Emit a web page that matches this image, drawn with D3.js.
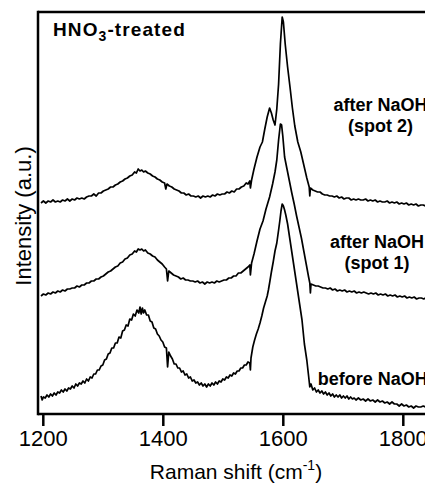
<!DOCTYPE html>
<html>
<head>
<meta charset="utf-8">
<script src="https://cdn.jsdelivr.net/npm/d3@7"></script>
<style>
  html, body { margin: 0; padding: 0; background: #fff; }
  svg { display: block; font-family: "Liberation Sans", Arial, sans-serif; }
</style>
</head>
<body>
<svg id="chart" width="425" height="485"></svg>
<script>
// Raman spectra, [shift in cm-1, intensity in a.u.]
const spectrumSpot2 = [
  [1197,211],[1201,213],[1205,211],[1209,213],[1213,212],[1217,214],[1221,212],[1225,213],[1229,212],[1233,214],
  [1237,213],[1241,215],[1245,213],[1249,215],[1253,214],[1257,216],[1261,215],[1265,216],[1269,215],[1273,217],
  [1277,218],[1281,218],[1285,220],[1289,218],[1293,221],[1297,221],[1301,223],[1305,224],[1309,225],[1313,227],
  [1317,227],[1321,229],[1325,230],[1329,232],[1333,233],[1337,235],[1341,236],[1345,238],[1349,239],[1353,242],
  [1356,241],[1359,245],[1362,243],[1365,244],[1368,242],[1371,243],[1375,241],[1379,240],[1383,238],[1387,237],
  [1391,235],[1395,234],[1399,232],[1403,231],[1405,225],[1407,230],[1411,228],[1415,227],[1419,225],[1423,224],
  [1427,223],[1431,221],[1435,221],[1439,219],[1443,220],[1447,218],[1451,218],[1455,217],[1459,218],[1463,216],
  [1467,218],[1471,217],[1475,218],[1479,217],[1483,219],[1487,218],[1491,220],[1495,219],[1499,220],[1503,220],
  [1507,222],[1511,221],[1515,223],[1519,222],[1523,225],[1527,225],[1531,227],[1535,228],[1539,231],[1542,230],
  [1545,233],[1546,226],[1548,234],[1552,245],[1557,257],[1562,267],[1566,272],[1570,285],[1574,297],[1578,306],
  [1581,301],[1584,294],[1587,289],[1590,305],[1593,330],[1596,370],[1599,397],[1601,392],[1604,370],[1608,347],
  [1612,327],[1616,306],[1620,288],[1625,272],[1630,262],[1635,249],[1640,236],[1644,227],[1645,218],[1646,226],
  [1650,224],[1654,223],[1658,222],[1662,222],[1666,220],[1670,219],[1674,219],[1678,218],[1682,218],[1686,217],
  [1690,218],[1694,216],[1698,217],[1702,215],[1706,216],[1710,216],[1714,214],[1718,215],[1722,214],[1726,215],
  [1730,214],[1734,214],[1738,215],[1742,213],[1746,214],[1750,213],[1754,214],[1758,212],[1762,213],[1766,212],
  [1770,212],[1774,213],[1778,211],[1782,212],[1786,211],[1790,212],[1794,210],[1798,211],[1802,210],[1806,211],
  [1810,209],[1814,210],[1818,209],[1822,210],[1826,208],[1830,209],[1834,209],[1838,208]
];

const spectrumSpot1 = [
  [1197,118],[1201,120],[1205,119],[1209,121],[1213,120],[1217,122],[1221,121],[1225,123],[1229,122],[1233,124],
  [1237,123],[1241,125],[1245,125],[1249,126],[1253,126],[1257,128],[1261,127],[1265,129],[1269,129],[1273,131],
  [1277,131],[1281,133],[1285,133],[1289,135],[1293,135],[1297,137],[1301,138],[1305,140],[1309,142],[1313,143],
  [1317,145],[1321,147],[1325,148],[1329,151],[1333,152],[1337,155],[1341,156],[1345,159],[1349,160],[1353,163],
  [1356,162],[1359,165],[1362,164],[1365,165],[1368,163],[1371,164],[1375,161],[1379,160],[1383,158],[1387,157],
  [1391,154],[1395,152],[1399,150],[1403,147],[1406,145],[1408,133],[1410,143],[1414,141],[1418,139],[1422,138],
  [1426,137],[1430,135],[1434,136],[1438,134],[1442,134],[1446,133],[1450,133],[1454,132],[1458,133],[1462,131],
  [1466,132],[1470,130],[1474,132],[1478,131],[1482,132],[1486,131],[1490,133],[1494,132],[1498,133],[1502,134],
  [1506,134],[1510,136],[1514,136],[1518,138],[1522,138],[1526,141],[1530,141],[1534,143],[1538,145],[1542,147],
  [1545,149],[1546,139],[1548,151],[1552,160],[1557,173],[1562,185],[1567,193],[1572,205],[1578,217],[1583,230],
  [1587,242],[1590,254],[1593,274],[1596,290],[1598,289],[1600,278],[1603,257],[1607,245],[1611,233],[1615,221],
  [1619,210],[1623,198],[1627,187],[1631,176],[1635,163],[1639,150],[1643,137],[1645,131],[1646,121],[1647,130],
  [1651,129],[1655,128],[1659,128],[1663,127],[1667,126],[1671,126],[1675,125],[1679,126],[1683,124],[1687,125],
  [1691,123],[1695,124],[1699,123],[1703,124],[1707,122],[1711,123],[1715,122],[1719,123],[1723,121],[1727,122],
  [1731,121],[1735,122],[1739,121],[1743,120],[1747,121],[1751,120],[1755,121],[1759,119],[1763,120],[1767,119],
  [1771,120],[1775,118],[1779,119],[1783,118],[1787,119],[1791,117],[1795,118],[1799,117],[1803,118],[1807,116],
  [1811,117],[1815,116],[1819,117],[1823,115],[1827,116],[1831,116],[1835,115],[1838,116]
];

const spectrumBefore = [
  [1197,18],[1199,14],[1201,17],[1204,16],[1207,19],[1210,17],[1213,20],[1216,18],[1219,21],[1222,19],
  [1225,22],[1228,21],[1231,24],[1234,22],[1237,25],[1240,23],[1243,26],[1246,25],[1249,28],[1252,26],
  [1255,30],[1258,28],[1261,31],[1264,30],[1267,33],[1270,31],[1273,35],[1276,33],[1279,37],[1282,36],
  [1285,40],[1288,40],[1291,44],[1294,44],[1297,48],[1300,49],[1303,54],[1306,55],[1309,60],[1312,61],
  [1315,66],[1318,66],[1321,71],[1324,71],[1327,77],[1330,76],[1333,83],[1336,84],[1339,89],[1342,88],
  [1345,95],[1348,94],[1351,100],[1354,98],[1357,104],[1360,101],[1362,107],[1364,100],[1366,106],[1368,101],
  [1370,104],[1373,99],[1376,99],[1379,93],[1382,92],[1385,86],[1388,85],[1391,80],[1394,78],[1397,74],
  [1400,72],[1403,67],[1406,66],[1408,47],[1410,62],[1413,58],[1416,55],[1419,50],[1422,50],[1425,46],
  [1428,46],[1431,42],[1434,43],[1437,39],[1440,40],[1443,36],[1446,37],[1449,33],[1452,34],[1455,31],
  [1458,32],[1461,29],[1464,31],[1467,28],[1470,30],[1473,27],[1476,30],[1479,28],[1482,31],[1485,29],
  [1488,32],[1491,30],[1494,33],[1497,32],[1500,35],[1503,34],[1506,37],[1509,36],[1512,39],[1515,38],
  [1518,41],[1521,40],[1524,43],[1527,43],[1530,46],[1533,46],[1536,49],[1539,49],[1542,52],[1545,51],
  [1546,44],[1547,56],[1550,67],[1553,74],[1556,80],[1559,85],[1562,91],[1565,98],[1568,106],[1571,112],
  [1574,118],[1576,124],[1578,131],[1581,142],[1584,152],[1587,163],[1590,171],[1593,184],[1595,193],[1597,203],
  [1599,210],[1601,208],[1603,204],[1605,199],[1608,190],[1612,174],[1617,154],[1622,134],[1627,114],[1632,94],
  [1636,70],[1640,54],[1643,38],[1645,27],[1647,30],[1650,24],[1653,26],[1656,22],[1659,24],[1662,21],
  [1665,23],[1668,20],[1671,22],[1674,19],[1677,21],[1680,18],[1683,20],[1686,17],[1689,19],[1692,17],
  [1695,19],[1698,16],[1701,18],[1704,16],[1707,18],[1710,15],[1713,17],[1716,15],[1719,16],[1722,14],
  [1726,16],[1730,14],[1734,15],[1738,13],[1742,15],[1746,13],[1750,14],[1754,12],[1758,14],[1762,12],
  [1766,13],[1770,11],[1774,12],[1778,10],[1782,12],[1786,10],[1790,10],[1794,8],[1798,10],[1802,8],
  [1806,9],[1810,7],[1814,8],[1818,6],[1822,8],[1826,7],[1830,7],[1834,8],[1838,7]
];

const xTicks = [1200, 1400, 1600, 1800];

// labels: [text lines, shift, intensity of first baseline]
const curveLabels = [
  [["after NaOH", "(spot 2)"], 1763, 303],
  [["after NaOH", "(spot 1)"], 1757, 166],
  [["before NaOH"], 1750, 29]
];

const svg = d3.select("#chart");

// plot area runs off the right edge of the picture
const plotLeft = 38, plotTop = 12, plotBottom = 414;

const x = d3.scaleLinear().domain([1192, 1845]).range([plotLeft, 429.8]);
const y = d3.scaleLinear().domain([0, 402]).range([plotBottom, plotTop]);

const line = d3.line()
  .x((d) => x(d[0]))
  .y((d) => y(d[1]));

svg.selectAll(".spectrum")
  .data([spectrumSpot2, spectrumSpot1, spectrumBefore])
  .enter()
  .append("path")
  .attr("class", "spectrum")
  .attr("d", line)
  .attr("fill", "none")
  .attr("stroke", "#000")
  .attr("stroke-width", 1.7)
  .attr("stroke-linejoin", "round");

// frame: left, top and bottom
const frame = svg.append("g").attr("stroke", "#000").attr("stroke-width", 2.5);
frame.append("line").attr("x1", plotLeft).attr("x2", plotLeft).attr("y1", plotTop - 1.2).attr("y2", plotBottom + 1.2);
frame.append("line").attr("x1", plotLeft).attr("x2", 425).attr("y1", plotTop).attr("y2", plotTop);
frame.append("line").attr("x1", plotLeft).attr("x2", 425).attr("y1", plotBottom).attr("y2", plotBottom);

const xAxis = svg.append("g")
  .attr("transform", `translate(0,${plotBottom})`)
  .call(d3.axisBottom(x)
    .tickValues(xTicks)
    .tickFormat(d3.format("d"))
    .tickSize(12)
    .tickPadding(4)
    .tickSizeOuter(0));
xAxis.select(".domain").remove();
xAxis.selectAll(".tick line").attr("stroke-width", 2.5);
xAxis.selectAll(".tick text")
  .attr("font-size", 22)
  .attr("font-family", "Liberation Sans, Arial, sans-serif")
  .attr("fill", "#000");

// axis titles
const xTitle = svg.append("text")
  .attr("x", 236)
  .attr("y", 479)
  .attr("text-anchor", "middle")
  .attr("font-size", 21);
xTitle.append("tspan").text("Raman shift (cm");
xTitle.append("tspan").attr("font-size", 14).attr("dy", -9).text("-1");
xTitle.append("tspan").attr("dy", 9).text(")");

svg.append("text")
  .attr("transform", "translate(31,216) rotate(-90)")
  .attr("text-anchor", "middle")
  .attr("font-size", 22)
  .text("Intensity (a.u.)");

// panel title
const title = svg.append("text")
  .attr("x", 53)
  .attr("y", 36)
  .attr("font-size", 19)
  .attr("font-weight", "bold")
  .attr("letter-spacing", 1.1);
title.append("tspan").text("HNO");
title.append("tspan").attr("font-size", 14).attr("dy", 5).text("3");
title.append("tspan").attr("dy", -5).text("-treated");

// curve labels
curveLabels.forEach(([lines, shift, level]) => {
  const t = svg.append("text")
    .attr("text-anchor", "middle")
    .attr("font-size", 18)
    .attr("font-weight", "bold");
  lines.forEach((s, i) => {
    t.append("tspan")
      .attr("x", x(shift))
      .attr("y", y(level) + i * 21)
      .text(s);
  });
});
</script>
</body>
</html>
